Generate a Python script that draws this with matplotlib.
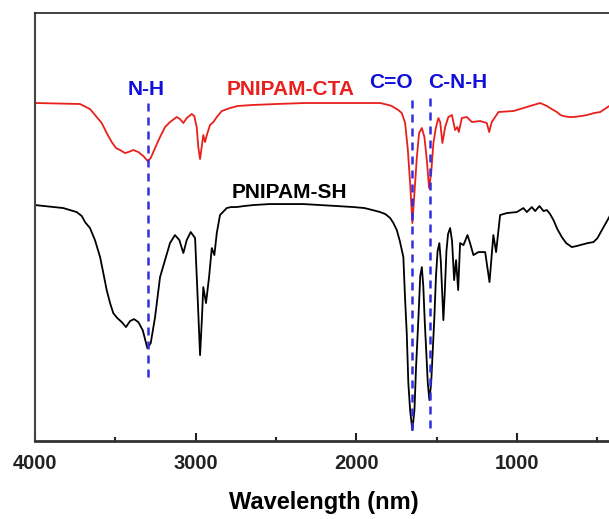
import numpy as np
import matplotlib
matplotlib.use('Agg')
import matplotlib.pyplot as plt
from matplotlib.ticker import MultipleLocator

plt.rcParams['font.family'] = ['Liberation Sans', 'DejaVu Sans']
plt.rcParams['font.weight'] = 'bold'

# PNIPAM-CTA (red), wavenumber vs transmittance (a.u.)
cta_wn = [4000, 3720, 3658, 3616, 3585, 3554, 3523, 3496, 3471, 3440, 3419, 3388,
          3357, 3326, 3299, 3280, 3253, 3222, 3191, 3160, 3118, 3098, 3077, 3056,
          3025, 3009, 2994, 2984, 2973, 2963, 2953, 2942, 2931, 2911, 2890, 2869,
          2838, 2786, 2740, 2650, 2500, 2320, 2100, 1853, 1800, 1780, 1760, 1740,
          1718, 1697, 1680, 1666, 1652, 1639, 1624, 1610, 1593, 1577, 1562, 1548,
          1535, 1521, 1506, 1490, 1479, 1465, 1448, 1428, 1406, 1386, 1372, 1363,
          1344, 1313, 1282, 1230, 1189, 1174, 1158, 1137, 1116, 1023, 940, 857,
          815, 785, 753, 730, 712, 680, 650, 600, 566, 520, 483, 455, 427, 400]
cta_t = [338, 337, 332, 324, 318, 308, 299, 293, 291, 288, 289, 291,
         289, 285, 280, 283, 293, 304, 314, 319, 324, 322, 318, 323,
         327, 325, 314, 294, 282, 294, 306, 299, 306, 316, 319, 324,
         330, 333, 335, 336, 337, 338, 338, 338, 336, 335, 333, 331,
         328, 318, 291, 258, 218, 248, 284, 308, 313, 304, 281, 253,
         268, 298, 313, 323, 319, 298, 314, 324, 326, 311, 314, 309,
         323, 324, 319, 320, 318, 309, 319, 324, 329, 330, 334, 338,
         335, 332, 329, 326, 325, 324, 324, 325, 326, 328, 329, 332, 335, 338]

# PNIPAM-SH (black)
sh_wn = [4000, 3824, 3741, 3709, 3689, 3658, 3627, 3595, 3575, 3554, 3533, 3513,
         3488, 3460, 3434, 3409, 3384, 3357, 3330, 3301, 3280, 3253, 3222, 3191,
         3160, 3129, 3102, 3077, 3056, 3031, 3004, 2990, 2973, 2961, 2953, 2936,
         2917, 2900, 2884, 2869, 2849, 2807, 2780, 2745, 2700, 2641, 2540, 2433,
         2330, 2226, 2120, 2019, 1950, 1900, 1853, 1820, 1790, 1770, 1749, 1730,
         1708, 1697, 1687, 1677, 1666, 1652, 1639, 1629, 1614, 1603, 1593, 1584,
         1575, 1566, 1556, 1546, 1535, 1525, 1515, 1505, 1495, 1484, 1475, 1459,
         1450, 1440, 1430, 1417, 1405, 1392, 1380, 1367, 1355, 1334, 1309, 1293,
         1272, 1241, 1199, 1172, 1148, 1131, 1106, 1064, 1002, 961, 940, 909,
         888, 861, 836, 815, 795, 774, 750, 722, 695, 660, 630, 608, 560, 525,
         500, 483, 455, 427, 400]
sh_t = [236, 233, 229, 225, 219, 213, 201, 184, 168, 151, 138, 128,
        123, 119, 114, 120, 122, 119, 111, 93, 98, 124, 164, 181,
        198, 206, 201, 188, 201, 209, 203, 151, 86, 124, 154, 138,
        164, 193, 186, 208, 226, 233, 234, 234, 235, 236, 237, 237,
        237, 236, 235, 234, 233, 231, 229, 227, 223, 218, 211, 200,
        184, 141, 108, 58, 31, 11, 31, 74, 124, 165, 174, 155,
        120, 91, 58, 41, 58, 91, 124, 165, 190, 198, 180, 121,
        150, 190, 207, 213, 200, 161, 181, 151, 198, 196, 206, 198,
        186, 189, 189, 159, 206, 189, 226, 228, 229, 233, 229, 234,
        230, 235, 230, 231, 227, 221, 212, 204, 198, 194, 195, 196, 198, 199,
        203, 208, 216, 224, 233]

# band markers: label, position, dashed line span
bands = ['N-H', 'C=O', 'C-N-H']
band_wn = [3300, 1655, 1540]
band_top = [339, 344, 344]
band_bottom = [64, 11, 13]
label_wn = [3309, 1787, 1373]
label_t = [352, 359, 359]

fig = plt.figure(figsize=(6.09, 5.19), dpi=100)
ax = fig.add_axes([0.0575, 0.150, 0.950, 0.825])

ax.plot(cta_wn, cta_t, color='#e8201c', lw=1.3)
ax.plot(sh_wn, sh_t, color='black', lw=1.3)

for wn, top, bot in zip(band_wn, band_top, band_bottom):
    ax.plot([wn, wn], [bot, top], color='#2f2fe0', lw=1.8, ls=(0, (3.2, 2.4)))

for lab, x, y in zip(bands, label_wn, label_t):
    ax.text(x, y, lab, color='#1010d8', fontsize=15, fontweight='bold',
            ha='center', va='center')

ax.text(2407, 352, 'PNIPAM-CTA', color='#e8201c', fontsize=15,
        fontweight='bold', ha='center', va='center')
ax.text(2416, 249, 'PNIPAM-SH', color='black', fontsize=15,
        fontweight='bold', ha='center', va='center')

ax.set_xlim(4000, 400)
ax.set_ylim(0, 428)
ax.xaxis.set_major_locator(MultipleLocator(1000))
ax.xaxis.set_minor_locator(MultipleLocator(500))
ax.tick_params(axis='x', which='major', direction='in', length=6, width=1.5,
               labelsize=14.5, pad=9, colors='#222222')
ax.tick_params(axis='x', which='minor', direction='in', length=3, width=1.5,
               colors='#222222')
ax.set_yticks([])
for lab in ax.get_xticklabels():
    lab.set_fontweight('bold')
ax.set_xlabel('Wavelength (nm)', fontsize=17, fontweight='bold', labelpad=13)

ax.spines['left'].set_linewidth(1.5)
ax.spines['left'].set_color('#444444')
ax.spines['bottom'].set_linewidth(2)
ax.spines['bottom'].set_color('#333333')
ax.spines['top'].set_linewidth(1.2)
ax.spines['top'].set_color('#222222')
ax.spines['right'].set_visible(False)

fig.savefig('out.png', dpi=100)
